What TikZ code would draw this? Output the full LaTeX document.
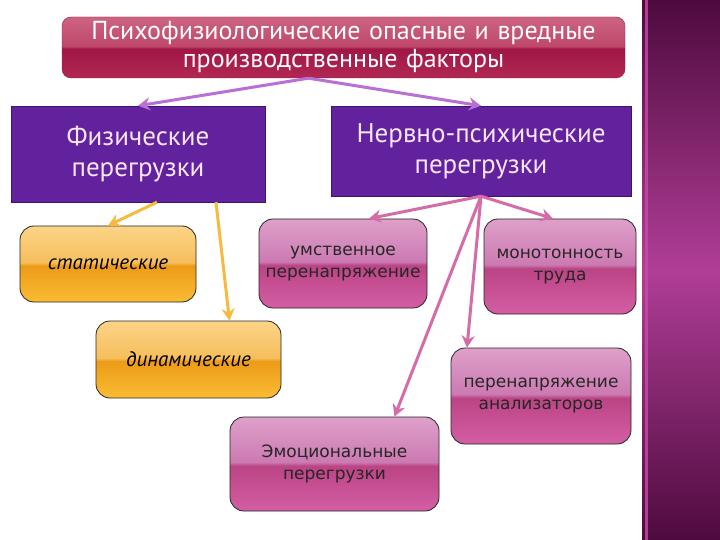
\documentclass[tikz,border=0pt]{standalone}
\usepackage{fontspec}
\setmainfont{PT Sans}
\newfontfamily\pinkfont{DejaVu Sans}
\usetikzlibrary{arrows.meta,positioning,calc}
\usepackage{xcolor}
\definecolor{vb}{RGB}{98,34,158}
\definecolor{vbr}{RGB}{62,20,112}
\definecolor{vtx}{RGB}{248,230,248}
\definecolor{tttop}{RGB}{205,100,130}
\definecolor{ttmid}{RGB}{190,72,105}
\definecolor{ttlow}{RGB}{160,22,68}
\definecolor{ttbot}{RGB}{178,40,84}
\definecolor{pktop}{RGB}{222,160,202}
\definecolor{pkmid}{RGB}{204,122,178}
\definecolor{pklow}{RGB}{186,68,132}
\definecolor{pkbot}{RGB}{212,94,164}
\definecolor{ortop}{RGB}{251,212,135}
\definecolor{ormid}{RGB}{246,190,92}
\definecolor{orlow}{RGB}{236,155,24}
\definecolor{orbot}{RGB}{250,188,52}
\definecolor{strd}{RGB}{78,10,62}
\definecolor{strm}{RGB}{176,62,150}
\definecolor{strl}{RGB}{196,76,170}
\definecolor{arrv}{RGB}{184,112,212}
\definecolor{arro}{RGB}{246,186,62}
\definecolor{arrp}{RGB}{214,108,166}
\pgfdeclareverticalshading{titleglass}{100bp}{color(0bp)=(ttbot); color(25bp)=(ttbot); color(49bp)=(ttlow); color(51bp)=(ttmid); color(75bp)=(tttop); color(100bp)=(tttop)}
\pgfdeclareverticalshading{pinkglass}{100bp}{color(0bp)=(pkbot); color(25bp)=(pkbot); color(49bp)=(pklow); color(51bp)=(pkmid); color(75bp)=(pktop); color(100bp)=(pktop)}
\pgfdeclareverticalshading{orangeglass}{100bp}{color(0bp)=(orbot); color(25bp)=(orbot); color(49bp)=(orlow); color(51bp)=(ormid); color(75bp)=(ortop); color(100bp)=(ortop)}
\tikzset{
  tn/.style={rectangle,rounded corners=9pt,draw=ttlow,shading=titleglass,
    text width=#1,align=center,text=white,
    font=\fontsize{26}{28}\selectfont,inner sep=0pt},
  tn/.default=560pt,
  vn/.style={rectangle,draw=vbr,fill=vb,
    text width=#1,align=center,text=vtx,
    font=\fontsize{27}{31}\selectfont,inner sep=0pt},
  vn/.default=254pt,
  pn/.style={rectangle,rounded corners=14pt,draw=black!85,thick,shading=pinkglass,
    text width=#1,align=center,text=black!85,
    font=\pinkfont\fontsize{17}{22}\selectfont,inner sep=0pt},
  pn/.default=170pt,
  on/.style={rectangle,rounded corners=14pt,draw=black!85,thick,shading=orangeglass,
    text width=#1,align=center,
    font=\itshape\fontsize{21}{24}\selectfont,inner sep=0pt},
  on/.default=176pt,
  arr/.style={-{Stealth[length=12pt,width=13pt]},line width=3pt,color=#1},
}

\begin{document}
\begin{tikzpicture}[x=1pt,y=-1pt]
    \useasboundingbox (0,0) rectangle (720,540);
    \fill[white] (0,0) rectangle (720,540);
    % side strip
    \shade[top color=strd,bottom color=strd,middle color=strm] (642,0) rectangle (720,540);
    \fill[strl,opacity=0.8] (645,0) rectangle (648,540);

    \node[tn=563pt,minimum height=61pt] (title) at (343.5,47.5)
      {Психофизиологические опасные и вредные\\производственные факторы};

    \node[vn=254pt,minimum height=96pt] (fiz) at (138,154)
      {Физические\\перегрузки};
    \node[vn=300pt,minimum height=90pt] (nerv) at (481,151)
      {Нервно-психические\\перегрузки};

    \node[on=176pt,minimum height=76pt] (stat) at (108,264) {статические};
    \node[on=185pt,minimum height=77pt] (dyn) at (188.5,359.5) {динамические};

    \node[pn=168pt,minimum height=89pt] (umst) at (343,263.5)
      {умственное\\перенапряжение};
    \node[pn=152pt,minimum height=95pt] (mono) at (560,266.5)
      {монотонность\\труда};
    \node[pn=180pt,minimum height=96pt] (anal) at (541,396)
      {перенапряжение\\анализаторов};
    \node[pn=209pt,minimum height=94pt] (emo) at (334.5,464)
      {Эмоциональные\\перегрузки};

    \draw[arr=arrv] ([xshift=-35pt]title.south) -- (fiz.north);
    \draw[arr=arrv] ([xshift=-35pt]title.south) -- (nerv.north);

    \draw[arr=arro] ([xshift=19pt]fiz.south) -- (stat.north);
    \draw[arr=arro] ([xshift=78pt]fiz.south) -- ([xshift=41pt]dyn.north);

    \draw[arr=arrp] (nerv.south) -- ([xshift=26pt]umst.north);
    \draw[arr=arrp] (nerv.south) -- ([xshift=-7pt]mono.north);
    \draw[arr=arrp] (nerv.south) -- ([xshift=-74pt]anal.north);
    \draw[arr=arrp] (nerv.south) -- ([xshift=60pt]emo.north);
  \end{tikzpicture}
\end{document}
